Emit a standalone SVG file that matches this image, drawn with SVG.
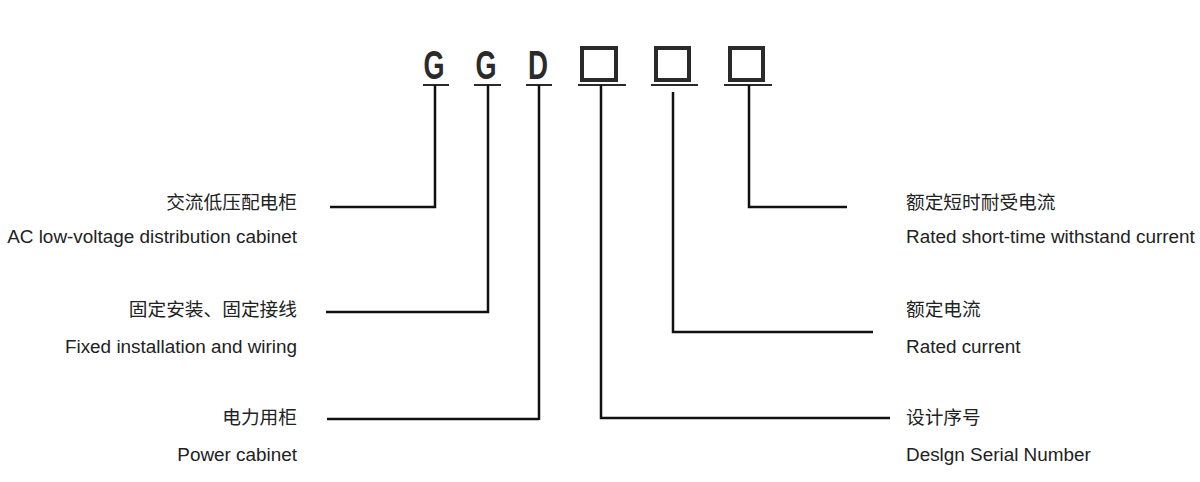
<svg xmlns="http://www.w3.org/2000/svg" width="1200" height="482" viewBox="0 0 1200 482">
<style>
.code{font-family:"Liberation Sans",sans-serif;font-weight:bold;font-size:40px;fill:#2a2a2a;text-anchor:middle}
.box{fill:none;stroke:#2a2a2a;stroke-width:4}
.ul{stroke:#2a2a2a;stroke-width:2;fill:none}
.cn{font-family:"Liberation Sans","Noto Sans CJK SC",sans-serif;font-size:18.7px;fill:#222}
.en{font-family:"Liberation Sans","Noto Sans CJK SC",sans-serif;font-size:18.9px;fill:#222}
.l{text-anchor:end}
.conn polyline{fill:none;stroke:#111;stroke-width:2.5;stroke-linejoin:miter}
</style>
<rect width="1200" height="482" fill="#fff"/>
<g id="code">
  <g id="c1"><text class="code" x="434" y="79" textLength="21" lengthAdjust="spacingAndGlyphs">G</text><line class="ul" x1="423" y1="85" x2="449" y2="85"/></g>
  <g id="c2"><text class="code" x="486" y="79" textLength="21" lengthAdjust="spacingAndGlyphs">G</text><line class="ul" x1="474" y1="85" x2="501" y2="85"/></g>
  <g id="c3"><text class="code" x="538" y="79" textLength="20" lengthAdjust="spacingAndGlyphs">D</text><line class="ul" x1="526" y1="85" x2="552" y2="85"/></g>
  <g id="c4"><rect class="box" x="582" y="48" width="34" height="32"/><line class="ul" x1="578" y1="85" x2="626" y2="85"/></g>
  <g id="c5"><rect class="box" x="656" y="48" width="33" height="32"/><line class="ul" x1="651" y1="85" x2="698" y2="85"/></g>
  <g id="c6"><rect class="box" x="730" y="48" width="33" height="32"/><line class="ul" x1="724" y1="85" x2="772" y2="85"/></g>
</g>
<g id="connectors" class="conn">
  <polyline points="435,85 435,207 330,207"/>
  <polyline points="488,85 488,312 326,312"/>
  <polyline points="539,85 539,420 539,419 327,419"/>
  <polyline points="601,85 601,418 890,418"/>
  <polyline points="673,92 673,332 873,332"/>
  <polyline points="749,85 749,207 847,207"/>
</g>
<g id="n1"><text class="cn l" x="297" y="209">交流低压配电柜</text><text class="en l" x="297" y="243">AC low-voltage distribution cabinet</text></g>
<g id="n2"><text class="cn l" x="297" y="316">固定安装、固定接线</text><text class="en l" x="297" y="353">Fixed installation and wiring</text></g>
<g id="n3"><text class="cn l" x="297" y="424">电力用柜</text><text class="en l" x="297" y="461">Power cabinet</text></g>
<g id="n4"><text class="cn" x="906" y="209">额定短时耐受电流</text><text class="en" x="906" y="243">Rated short-time withstand current</text></g>
<g id="n5"><text class="cn" x="906" y="316">额定电流</text><text class="en" x="906" y="353">Rated current</text></g>
<g id="n6"><text class="cn" x="906" y="424">设计序号</text><text class="en" x="906" y="461">Deslgn Serial Number</text></g>
</svg>
